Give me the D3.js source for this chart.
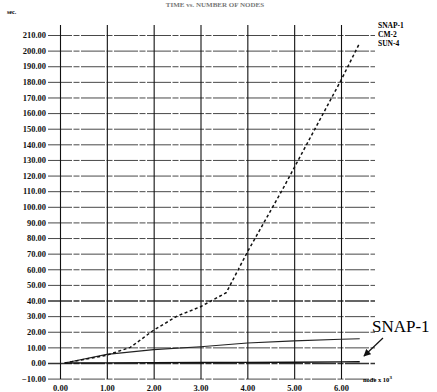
<!DOCTYPE html>
<html>
<head>
<meta charset="utf-8">
<script src="https://cdn.jsdelivr.net/npm/d3@7"></script>
<style>
  body { margin: 0; background: #fff; }
  text { font-family: "Liberation Serif", "DejaVu Serif", serif; }
</style>
</head>
<body>
<div id="chart"></div>
<script>
var svgWidth = 437;
var svgHeight = 392;

// data (x in nodes x 10^3, y in sec.)
var sun4X = [0.1, 1.0, 1.5, 2.0, 2.5, 3.0, 3.55, 4.0, 4.75, 5.0, 6.0, 6.4];
var sun4Y = [0, 5, 10, 21, 30, 36, 45, 71, 111, 125, 181, 205];
var cm2X = [0.1, 1.0, 2.0, 3.0, 4.0, 5.0, 6.0, 6.4];
var cm2Y = [0, 5.5, 8.5, 10.4, 12.8, 14.2, 15.2, 15.5];
var snapX = [0.1, 1.0, 2.0, 3.0, 4.0, 5.0, 6.0, 6.4];
var snapY = [0, 0.1, 0.2, 0.3, 0.4, 0.5, 0.7, 0.8];
var xTicks = [0, 1, 2, 3, 4, 5, 6];
var yTicks = d3.range(-10, 211, 10);
var legendNames = ["SNAP-1", "CM-2", "SUN-4"];

var svg = d3.select("#chart")
  .append("svg")
  .attr("width", svgWidth)
  .attr("height", svgHeight);

var x = d3.scaleLinear().domain([0, 6]).range([60, 341]);
var y = d3.scaleLinear().domain([-10, 210]).range([378.6, 35]);

// horizontal grid (axis with long ticks)
var leftAxis = d3.axisLeft(y)
  .tickValues(yTicks)
  .tickFormat(d3.format(".2f"))
  .tickSize(-327)
  .tickPadding(2);

var yg = svg.append("g")
  .attr("transform", "translate(48,0)")
  .call(leftAxis);
yg.select(".domain").remove();
yg.selectAll("line")
  .attr("stroke", "#333")
  .attr("stroke-width", d => (d === 40 || d === 0) ? 1.4 : 0.9)
  .attr("stroke-dasharray", "24,1.5,6,1.5");
yg.selectAll("text")
  .attr("font-size", 8.5)
  .attr("font-weight", "bold")
  .attr("fill", "#111");

// vertical grid
var bottomAxis = d3.axisBottom(x)
  .tickValues(xTicks)
  .tickFormat(d3.format(".2f"))
  .tickSize(-354)
  .tickPadding(6);

var xg = svg.append("g")
  .attr("transform", "translate(0,379)")
  .call(bottomAxis);
xg.select(".domain").remove();
xg.selectAll("line")
  .attr("stroke", "#111")
  .attr("stroke-width", 1.1);
xg.selectAll("text")
  .attr("font-size", 8.5)
  .attr("font-weight", "bold")
  .attr("fill", "#111");

function pts(xs, ys) {
  return xs.map((v, i) => [v, ys[i]]);
}

var line = d3.line()
  .x(d => x(d[0]))
  .y(d => y(d[1]));

svg.append("path")
  .datum(pts(snapX, snapY))
  .attr("d", line)
  .attr("fill", "none")
  .attr("stroke", "#111")
  .attr("stroke-width", 1.4);

svg.append("path")
  .datum(pts(cm2X, cm2Y))
  .attr("d", line)
  .attr("fill", "none")
  .attr("stroke", "#222")
  .attr("stroke-width", 1.2);

svg.append("path")
  .datum(pts(sun4X, sun4Y))
  .attr("d", line)
  .attr("fill", "none")
  .attr("stroke", "#111")
  .attr("stroke-width", 1.5)
  .attr("stroke-dasharray", "3,2.5");

// title (mostly lost at top of the scan)
svg.append("text")
  .attr("x", 215)
  .attr("y", 7)
  .attr("text-anchor", "middle")
  .attr("font-size", 7)
  .attr("font-weight", "bold")
  .attr("fill", "#777")
  .text("TIME vs. NUMBER OF NODES");

svg.append("text")
  .attr("x", 7)
  .attr("y", 14)
  .attr("font-size", 6)
  .attr("font-weight", "bold")
  .text("sec.");

// legend
svg.selectAll(".legend")
  .data(legendNames)
  .enter()
  .append("text")
  .attr("class", "legend")
  .attr("x", 378)
  .attr("y", (d, i) => 28 + i * 9)
  .attr("font-size", 7.5)
  .attr("font-weight", "bold")
  .text(d => d);

svg.append("text")
  .attr("x", 363)
  .attr("y", 382)
  .attr("font-size", 6.5)
  .attr("font-weight", "bold")
  .html("node x 10<tspan dy='-3' font-size='5'>3</tspan>");

// SNAP-1 callout
svg.append("text")
  .attr("x", 372)
  .attr("y", 332)
  .attr("font-size", 17)
  .text("SNAP-1");

svg.append("defs").append("marker")
  .attr("id", "arr")
  .attr("viewBox", "0 0 10 10")
  .attr("refX", 9).attr("refY", 5)
  .attr("markerWidth", 6).attr("markerHeight", 6)
  .attr("orient", "auto")
  .append("path")
  .attr("d", "M0,0L10,5L0,10z")
  .attr("fill", "#111");

svg.append("line")
  .attr("x1", 383).attr("y1", 338)
  .attr("x2", 364).attr("y2", 356)
  .attr("stroke", "#111")
  .attr("stroke-width", 1.2)
  .attr("marker-end", "url(#arr)");
</script>
</body>
</html>
